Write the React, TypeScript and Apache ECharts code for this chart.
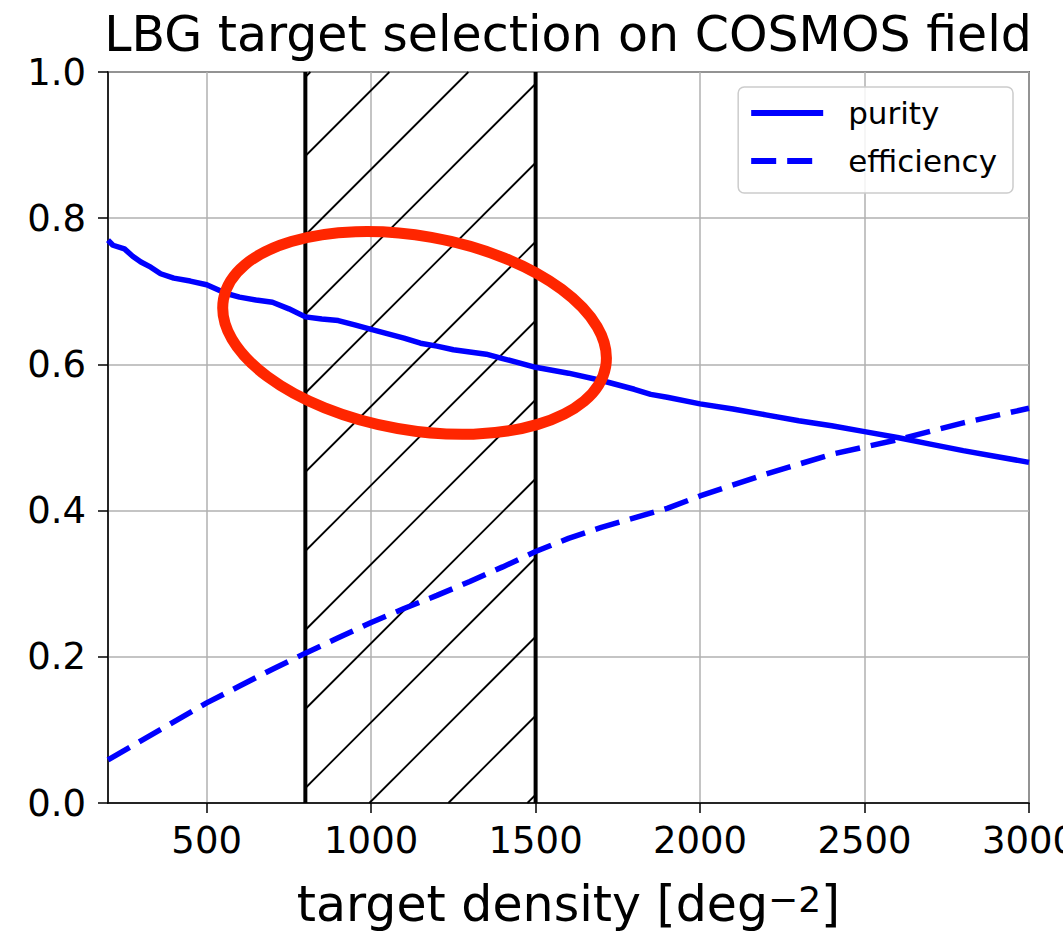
import React, { useEffect, useRef } from "react";
import * as echarts from "echarts";

const TITLE = "LBG target selection on COSMOS field";
const X_NAME_MAIN = "target density [deg";
const X_NAME_SUP = "−2";
const X_NAME_END = "]";
const X_MIN = 200;
const X_MAX = 3000;
const Y_MIN = 0;
const Y_MAX = 1;
const Y_INTERVAL = 0.2;

const purityX = [200, 215, 250, 275, 300, 330, 360, 400, 450, 500, 560, 600, 650, 700, 750, 800, 850, 900, 950, 1000, 1100, 1150, 1200, 1250, 1300, 1350, 1400, 1500, 1600, 1700, 1800, 1850, 1900, 2000, 2100, 2200, 2300, 2400, 2500, 2600, 2700, 2800, 2900, 3000];
const purityY = [0.770, 0.763, 0.758, 0.748, 0.740, 0.733, 0.724, 0.718, 0.714, 0.709, 0.697, 0.692, 0.688, 0.685, 0.676, 0.665, 0.662, 0.660, 0.654, 0.648, 0.636, 0.629, 0.625, 0.620, 0.617, 0.614, 0.608, 0.596, 0.588, 0.578, 0.566, 0.559, 0.555, 0.546, 0.539, 0.531, 0.523, 0.516, 0.508, 0.500, 0.491, 0.482, 0.474, 0.466];

const efficiencyX = [200, 300, 400, 500, 600, 700, 800, 900, 1000, 1100, 1200, 1300, 1400, 1500, 1600, 1700, 1800, 1900, 2000, 2200, 2400, 2600, 2800, 3000];
const efficiencyY = [0.059, 0.085, 0.111, 0.137, 0.160, 0.183, 0.205, 0.226, 0.247, 0.266, 0.284, 0.303, 0.323, 0.344, 0.362, 0.377, 0.390, 0.403, 0.420, 0.450, 0.477, 0.497, 0.520, 0.540];

const selectionBand = [800, 1500];
const highlightCenter = [1132, 0.643];

const FONT = "DejaVu Sans";

export default function App() {
  const ref = useRef<HTMLDivElement>(null);
  useEffect(() => {
    document.body.style.margin = "0";
    if (!ref.current) return;
    const chart = echarts.init(ref.current, null, { renderer: "svg" });
    const purity = purityX.map((x, i) => [x, purityY[i]]);
    const efficiency = efficiencyX.map((x, i) => [x, efficiencyY[i]]);
    const HATCH_SPACING = 79;
    const HATCH_OFFSET = 15;

    chart.setOption({
      animation: false,
      backgroundColor: "#ffffff",
      title: {
        text: TITLE,
        left: 568,
        textAlign: "center",
        top: 10,
        padding: 0,
        textStyle: { fontFamily: FONT, fontSize: 49, fontWeight: "normal", color: "#000" },
      },
      grid: {
        left: 108,
        right: 34,
        top: 72,
        bottom: 129,
        containLabel: false,
        outerBoundsMode: "none",
        show: true,
        borderColor: "#000",
        borderWidth: 1.5,
        backgroundColor: "transparent",
      },
      legend: {
        right: 50,
        top: 87,
        orient: "vertical",
        itemWidth: 72,
        itemHeight: 14,
        itemGap: 12,
        padding: [8, 16, 14, 10],
        backgroundColor: "rgba(255,255,255,0.85)",
        borderColor: "#cccccc",
        borderWidth: 1.5,
        borderRadius: 6,
        lineStyle: { width: 6 },
        itemStyle: { opacity: 0 },
        textStyle: { fontFamily: FONT, fontSize: 31, color: "#000", lineHeight: 36, padding: [0, 0, 0, 20] },
        data: ["purity", "efficiency"],
      },
      xAxis: {
        type: "value",
        min: X_MIN,
        max: X_MAX,
        name: `{n|${X_NAME_MAIN}}{sup|${X_NAME_SUP}}{n|${X_NAME_END}}`,
        nameLocation: "middle",
        nameGap: 78,
        nameTextStyle: {
          rich: {
            n: { fontFamily: FONT, fontSize: 49, lineHeight: 46, color: "#000" },
            sup: { fontFamily: FONT, fontSize: 36, lineHeight: 10, verticalAlign: "top", color: "#000" },
          },
        },
        axisLine: { show: true, lineStyle: { color: "#000", width: 1.5 } },
        axisTick: { show: true, length: 10, lineStyle: { color: "#000", width: 1.5 } },
        axisLabel: {
          showMinLabel: false,
          margin: 19,
          fontFamily: FONT,
          fontSize: 37,
          color: "#000",
          formatter: (v: number) => String(v),
        },
        splitLine: { show: true, lineStyle: { color: "#b0b0b0", width: 1.5 } },
      },
      yAxis: {
        type: "value",
        min: Y_MIN,
        max: Y_MAX,
        interval: Y_INTERVAL,
        axisLine: { show: true, lineStyle: { color: "#000", width: 1.5 } },
        axisTick: { show: true, length: 10, lineStyle: { color: "#000", width: 1.5 } },
        axisLabel: {
          margin: 22,
          fontFamily: FONT,
          fontSize: 37,
          color: "#000",
          formatter: (v: number) => v.toFixed(1),
        },
        splitLine: { show: true, lineStyle: { color: "#b0b0b0", width: 1.5 } },
      },
      series: [
        {
          type: "custom",
          name: "selection",
          z: 1,
          silent: true,
          clip: false,
          encode: { x: [0, 1] },
          data: [selectionBand],
          renderItem: (_params: any, api: any) => {
            const x0 = api.value(0);
            const x1 = api.value(1);
            const pTL = api.coord([x0, Y_MAX]);
            const pBR = api.coord([x1, Y_MIN]);
            const xL = pTL[0], yT = pTL[1], xR = pBR[0], yB = pBR[1];
            const children: any[] = [];
            const base = xL + yB - HATCH_OFFSET;
            const kMax = Math.floor((xR + yB - base) / HATCH_SPACING);
            for (let k = kMax; ; k--) {
              const c = base + k * HATCH_SPACING;
              if (c <= xL + yT) break;
              const ax = Math.max(xL, c - yB);
              const bx = Math.min(xR, c - yT);
              if (bx > ax) {
                children.push({
                  type: "line",
                  shape: { x1: ax, y1: c - ax, x2: bx, y2: c - bx },
                  style: { stroke: "#000", lineWidth: 1.8 },
                });
              }
            }
            children.push({ type: "line", shape: { x1: xL, y1: yT, x2: xL, y2: yB }, style: { stroke: "#000", lineWidth: 4 } });
            children.push({ type: "line", shape: { x1: xR, y1: yT, x2: xR, y2: yB }, style: { stroke: "#000", lineWidth: 4 } });
            return { type: "group", children };
          },
        },
        {
          type: "line",
          name: "purity",
          data: purity,
          showSymbol: false,
          symbol: "none",
          z: 3,
          lineStyle: { color: "#0000ff", width: 5.5 },
          itemStyle: { color: "#0000ff" },
        },
        {
          type: "line",
          name: "efficiency",
          data: efficiency,
          showSymbol: false,
          symbol: "none",
          z: 3,
          lineStyle: { color: "#0000ff", width: 5.5, type: [25, 11] },
          itemStyle: { color: "#0000ff" },
        },
      ],
    });

    const c = chart.convertToPixel({ gridIndex: 0 }, highlightCenter) as number[];
    chart.setOption({
      graphic: [
        {
          type: "ellipse",
          x: c[0],
          y: c[1],
          rotation: -(10 * Math.PI) / 180,
          shape: { cx: 0, cy: 0, rx: 194, ry: 97 },
          style: { fill: "none", stroke: "#ff2600", lineWidth: 11 },
          z: 100,
          silent: true,
        },
      ],
    });

    return () => chart.dispose();
  }, []);
  return <div ref={ref} style={{ position: "fixed", left: 0, top: 0, width: 1063, height: 932 }} />;
}
